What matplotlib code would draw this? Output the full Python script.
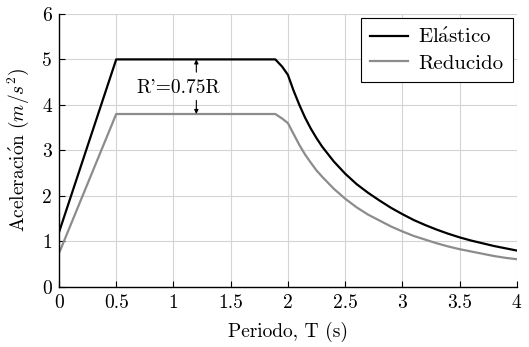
import matplotlib
matplotlib.use("Agg")
import matplotlib.pyplot as plt
from matplotlib.ticker import FuncFormatter

plt.rcParams['font.family'] = ['cmr10', 'DejaVu Serif']
plt.rcParams['mathtext.fontset'] = 'cm'
plt.rcParams['axes.formatter.use_mathtext'] = True

# periodo (s)
T = [0.0, 0.5, 1.89, 1.95, 2.0, 2.05, 2.1, 2.15, 2.2, 2.25, 2.3, 2.4, 2.5, 2.6,
     2.7, 2.8, 2.9, 3.0, 3.1, 3.2, 3.3, 3.4, 3.5, 3.6, 3.7, 3.8, 3.9, 4.0]
# aceleracion elastica (m/s2)
elastico = [1.2, 5.0, 5.0, 4.84, 4.66, 4.31, 4.0, 3.72, 3.48, 3.27, 3.08, 2.76, 2.49, 2.26,
            2.07, 1.90, 1.74, 1.60, 1.47, 1.36, 1.26, 1.17, 1.09, 1.02, 0.96, 0.90, 0.85, 0.80]
# aceleracion reducida
reducido = [0.74, 3.8, 3.8, 3.7, 3.6, 3.36, 3.12, 2.91, 2.73, 2.56, 2.42, 2.16, 1.94, 1.75,
            1.59, 1.46, 1.33, 1.22, 1.12, 1.04, 0.96, 0.89, 0.83, 0.78, 0.73, 0.68, 0.64, 0.61]

xticks = [0, 0.5, 1, 1.5, 2, 2.5, 3, 3.5, 4]
yticks = [0, 1, 2, 3, 4, 5, 6]

fig = plt.figure(figsize=(5.29, 3.47), dpi=100)
ax = fig.add_axes([0.1115, 0.173, 0.8655, 0.787])

ax.plot(T, elastico, color='black', lw=1.6, label=r'$\mathrm{El\acute{a}stico}$')
ax.plot(T, reducido, color='#8c8c8c', lw=1.6, label='Reducido')

# flechas R' = 0.75R
ax.annotate('', xy=(1.2, 5.0), xytext=(1.2, 4.72),
            arrowprops=dict(arrowstyle='-|>', color='black', lw=0.8,
                            mutation_scale=6, shrinkA=0, shrinkB=0))
ax.annotate('', xy=(1.2, 3.8), xytext=(1.2, 4.1),
            arrowprops=dict(arrowstyle='-|>', color='black', lw=0.8,
                            mutation_scale=6, shrinkA=0, shrinkB=0))
ax.text(1.04, 4.38, "R'=0.75R", fontsize=14, ha='center', va='center')

ax.set_xlim(0, 4)
ax.set_ylim(0, 6)
ax.set_xticks(xticks)
ax.set_yticks(yticks)
ax.xaxis.set_major_formatter(FuncFormatter(lambda v, p: '%g' % v))
ax.yaxis.set_major_formatter(FuncFormatter(lambda v, p: '%g' % v))
ax.grid(True, color='#d4d4d4', lw=0.8)
ax.set_axisbelow(True)
for s in ['top', 'right']:
    ax.spines[s].set_visible(False)
for s in ['left', 'bottom']:
    ax.spines[s].set_linewidth(1.0)
ax.tick_params(direction='in', length=4, width=0.8, labelsize=14, pad=5)

ax.set_xlabel('Periodo, T (s)', fontsize=14, labelpad=7)
ax.set_ylabel(r'$\mathrm{Aceleraci\acute{o}n}\ (m/s^2)$', fontsize=14, labelpad=8)

leg = ax.legend(loc='upper right', fontsize=15, fancybox=False, framealpha=1,
                edgecolor='black', handlelength=1.8, borderpad=0.45,
                labelspacing=0.35, handletextpad=0.5, borderaxespad=0.2)
leg.get_frame().set_linewidth(0.8)

fig.savefig('out.png', dpi=100)
